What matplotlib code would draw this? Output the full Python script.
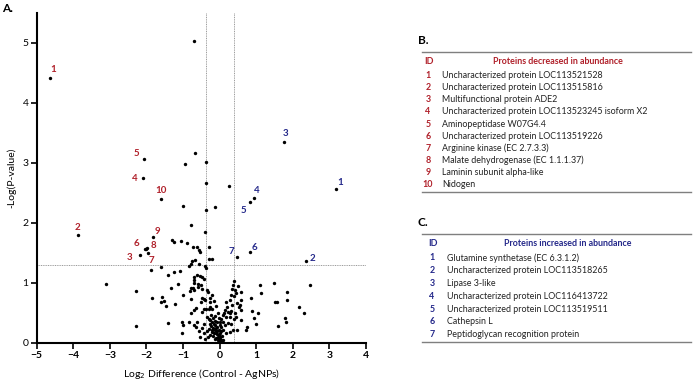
import matplotlib
matplotlib.use("Agg")
import matplotlib.pyplot as plt
import numpy as np

plt.rcParams['font.family'] = ['Lato', 'DejaVu Sans']

# Data

# proteins that are not labelled (log2 difference, -log p)
other_x = [-0.70, -0.67, -0.96, -0.36, -0.38, 0.26,
           -1.01, -0.36, -0.14, -0.77, -0.41,
           -1.31, -1.24, -1.06, -0.89, -0.74, -0.62, -0.56, -0.53, -0.28, -0.28, -0.22,
           -0.75, -0.68, -0.85, -0.78, -0.56, -0.41, -0.37, -1.88, -1.60, -2.00,
           -3.10, -2.29, -2.29, -1.85, -1.57, -1.59, -1.47, -1.51, -1.42, -1.24, -1.09,
           -1.32, -1.22, -1.13, -1.00, -1.42, -1.04, -1.03, -1.00,
           -0.69, -0.62, -0.55, -0.48, -0.44, -0.69, -0.71,
           -0.78, -0.73, -0.69, -0.82, -0.35, -0.33, -0.78, -0.48, -0.44, -0.51, -0.40,
           -0.27, -0.26, -0.64, -0.71, -0.78, -0.42, -0.36, -0.30, -0.21, -0.48,
           -0.84, -0.62, -0.69, -0.64, -0.44, -0.48, -0.44, -0.57,
           -0.30, -0.26, -0.21, -0.27, -0.16, -0.24, -0.12, -0.18, -0.07, -0.30, -0.14,
           -0.03, -0.21, -0.09, 0.02, -0.26, -0.17, -0.05, -0.33, 0.02, -0.12, -0.03,
           0.04, -0.07, -0.18, -0.35, -0.24, -0.07, 0.00,
           -0.10, 0.06, -0.15, 0.08, -0.01, -0.20, -0.09, 0.05, -0.13, -0.04, 0.01, -0.06,
           -0.20, -0.15, -0.10, -0.25, -0.05, -0.12, 0.05, 0.10, 0.12, 0.20, 0.08, 0.02, -0.02,
           -0.60, -0.58, -0.52, -0.47, -0.55, -0.40, -0.35,
           0.38, 0.37, 0.50, 0.35, 0.41, 0.46, 0.57, 0.32, 0.38, 0.27, 0.18, 0.57, 0.35,
           0.47, 0.55, 0.59, 0.53, 0.14, 0.23, 0.32, 0.27, 0.41, 0.09, 0.18, 0.29, 0.46,
           0.38, 0.57, 0.23, 0.32, 0.14, 0.05, 0.37, 0.48, 0.27, 0.17, 0.75, 0.73, 0.00,
           0.05, 0.87, 0.89, 1.05, 0.93, 1.11, 1.12, 1.48, 1.50, 1.57, 1.59,
           1.83, 1.83, 2.46, 2.17, 2.31, 1.78, 1.82, 0.98]
other_y = [5.03, 3.17, 2.98, 3.02, 2.67, 2.61,
           2.28, 2.21, 2.27, 1.96, 1.85,
           1.71, 1.68, 1.70, 1.67, 1.60, 1.59, 1.54, 1.52, 1.60, 1.39, 1.39,
           1.36, 1.38, 1.28, 1.31, 1.32, 1.28, 1.24, 1.22, 1.26, 1.57,
           0.98, 0.87, 0.28, 0.74, 0.76, 0.68, 0.61, 0.70, 1.13, 1.18, 1.19,
           0.91, 0.64, 0.98, 0.79, 0.33, 0.35, 0.16, 0.29,
           1.10, 1.13, 1.12, 1.10, 1.06, 1.04, 0.99,
           0.92, 0.91, 0.88, 0.86, 0.88, 0.84, 0.73, 0.75, 0.73, 0.68, 0.71,
           0.74, 0.68, 0.58, 0.55, 0.49, 0.57, 0.56, 0.56, 0.57, 0.52,
           0.35, 0.35, 0.30, 0.27, 0.32, 0.25, 0.16, 0.19,
           0.40, 0.38, 0.35, 0.32, 0.32, 0.28, 0.29, 0.25, 0.27, 0.23, 0.21,
           0.21, 0.18, 0.17, 0.16, 0.13, 0.12, 0.10, 0.10, 0.07, 0.06, 0.03,
           0.01, 0.15, 0.42, 0.43, 0.46, 0.35, 0.29,
           0.08, 0.12, 0.16, 0.05, 0.13, 0.22, 0.24, 0.20, 0.37, 0.05, 0.02, 0.19,
           0.80, 0.70, 0.62, 0.60, 0.50, 0.45, 0.40, 0.35, 0.50, 0.60, 0.22, 0.35, 0.42,
           0.98, 0.93, 0.96, 0.90, 0.10, 0.06, 0.20,
           1.03, 0.96, 0.95, 0.89, 0.88, 0.83, 0.85, 0.80, 0.78, 0.71, 0.68, 0.72, 0.63,
           0.66, 0.63, 0.55, 0.59, 0.54, 0.52, 0.53, 0.49, 0.50, 0.46, 0.43, 0.43, 0.43,
           0.39, 0.38, 0.33, 0.31, 0.29, 0.27, 0.22, 0.21, 0.18, 0.16, 0.26, 0.22, 0.10,
           0.045, 0.74, 0.53, 0.49, 0.42, 0.96, 0.83, 0.99, 0.68, 0.68, 0.28,
           0.85, 0.71, 0.97, 0.595, 0.495, 0.41, 0.34, 0.32]

# labelled proteins, decreased (red) and increased (blue)
dec_ids = ['1', '2', '3', '4', '5', '6', '7', '8', '9', '10']
dec_x = [-4.63, -3.88, -2.19, -2.10, -2.08, -2.05, -1.97, -1.99, -1.81, -1.61]
dec_y = [4.42, 1.79, 1.47, 2.74, 3.07, 1.57, 1.49, 1.58, 1.77, 2.40]
inc_ids = ['1', '2', '3', '4', '5', '6', '7']
inc_x = [3.19, 2.37, 1.75, 0.93, 0.84, 0.84, 0.48]
inc_y = [2.56, 1.36, 3.35, 2.42, 2.35, 1.52, 1.43]

dec_names = ['Uncharacterized protein LOC113521528',
             'Uncharacterized protein LOC113515816',
             'Multifunctional protein ADE2',
             'Uncharacterized protein LOC113523245 isoform X2',
             'Aminopeptidase W07G4.4',
             'Uncharacterized protein LOC113519226',
             'Arginine kinase (EC 2.7.3.3)',
             'Malate dehydrogenase (EC 1.1.1.37)',
             'Laminin subunit alpha-like',
             'Nidogen']
inc_names = ['Glutamine synthetase (EC 6.3.1.2)',
             'Uncharacterized protein LOC113518265',
             'Lipase 3-like',
             'Uncharacterized protein LOC116413722',
             'Uncharacterized protein LOC113519511',
             'Cathepsin L',
             'Peptidoglycan recognition protein']

fc_cut = 0.38
p_cut = 1.3

red = '#b0202a'
blue = '#24288a'

# label offsets in points (layout only)
dec_off = [(2, 6), (0, 6), (-7, -2), (-6, 0), (-5, 4), (-6, 4), (3, -5), (5, 2), (3, 4), (0, 6)]
inc_off = [(3, 5), (4, 2), (1, 6), (2, 5), (-5, -6), (3, 3), (-4, 4)]

W, H = 693, 385
fig = plt.figure(figsize=(W / 100, H / 100), dpi=100)
ax = fig.add_axes([36.7 / W, 1 - 342.7 / H, (366 - 36.7) / W, (342.7 - 13) / H])

# threshold lines
for v in [-fc_cut, fc_cut]:
    ax.axvline(v, color='#9a9a9a', ls=(0, (1, 0.8)), lw=0.7, zorder=1)
ax.axhline(p_cut, color='#9a9a9a', ls=(0, (1, 0.8)), lw=0.7, zorder=1)

ax.scatter(other_x, other_y, s=6, c='black', lw=0, zorder=3)
ax.scatter(dec_x, dec_y, s=6, c='black', lw=0, zorder=3)
ax.scatter(inc_x, inc_y, s=6, c='black', lw=0, zorder=3)

for i in range(len(dec_ids)):
    ax.annotate(dec_ids[i], (dec_x[i], dec_y[i]), xytext=dec_off[i], textcoords='offset points',
                ha='center', va='center', color=red, fontsize=7, fontweight='bold')
for i in range(len(inc_ids)):
    ax.annotate(inc_ids[i], (inc_x[i], inc_y[i]), xytext=inc_off[i], textcoords='offset points',
                ha='center', va='center', color=blue, fontsize=7, fontweight='bold')

ax.set_xlim(-5, 4)
ax.set_ylim(0, 5.5)
ax.set_xticks(np.arange(-5, 5, 1))
ax.set_yticks(np.arange(0, 6, 1))
for s in ['top', 'right']:
    ax.spines[s].set_visible(False)
for s in ['left', 'bottom']:
    ax.spines[s].set_linewidth(1.5)
ax.tick_params(direction='out', length=4, width=1.2, labelsize=7.5, pad=2)
for lab in ax.get_xticklabels():
    lab.set_fontweight('bold')
ax.set_xlabel('Log$_2$ Difference (Control - AgNPs)', fontsize=7.5, labelpad=5)
ax.set_ylabel('-Log(P-value)', fontsize=7.5, labelpad=4)

fig.text(2 / W, 1 - 8 / H, 'A.', fontsize=8.5, fontweight='bold', va='center')


# tables
def px(x, y):
    return x / W, 1 - y / H


def table(tag, label_y, top_y, names, color, title, title_x, row_gap, id_x, name_x):
    fig.text(*px(418, label_y), tag, fontsize=8.5, fontweight='bold', va='center')
    fig.add_artist(plt.Line2D([422 / W, 691 / W], [1 - top_y / H] * 2, color='#7f7f7f', lw=1))
    hy = top_y + 10
    fig.text(*px(id_x, hy), 'ID', fontsize=6.4, fontweight='bold', color=color, va='center')
    fig.text(*px(title_x, hy), title, fontsize=6.4, fontweight='bold', color=color, va='center',
             ha='center')
    y = hy + row_gap + 1
    for k, name in enumerate(names):
        fig.text(*px(id_x + 4, y), str(k + 1), fontsize=6.4, fontweight='bold', color=color,
                 va='center', ha='center')
        fig.text(*px(name_x, y), name, fontsize=6.4, va='center', color='#222222')
        y += row_gap
    fig.add_artist(plt.Line2D([422 / W, 691 / W], [1 - (y - row_gap + 7) / H] * 2,
                              color='#7f7f7f', lw=1))


table('B.', 40, 52, dec_names, red, 'Proteins decreased in abundance', 558, 12.2, 424, 442)
table('C.', 222, 234, inc_names, blue, 'Proteins increased in abundance', 568, 12.8, 428, 447)

fig.savefig('out.png', dpi=100)
